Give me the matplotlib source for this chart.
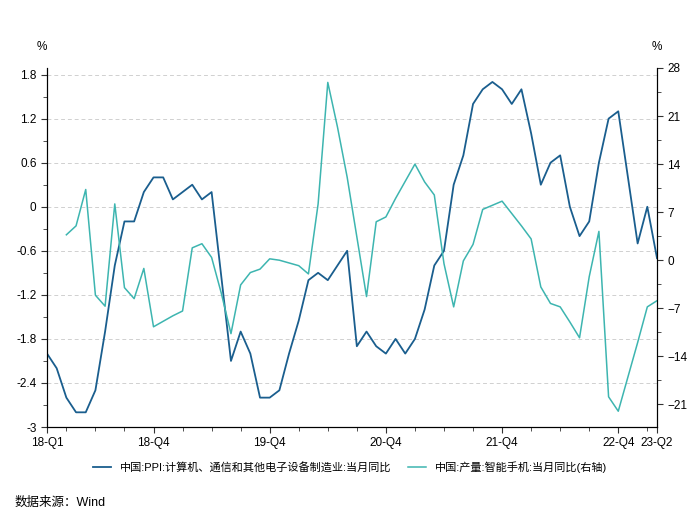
import matplotlib
matplotlib.use("Agg")
import matplotlib.pyplot as plt
from matplotlib.ticker import MultipleLocator
import numpy as np

plt.rcParams['font.family'] = ['Liberation Sans', 'Noto Sans CJK SC', 'DejaVu Sans']

tick_labels = ["18-Q1", "18-Q4", "19-Q4", "20-Q4", "21-Q4", "22-Q4", "23-Q2"]
tick_idx = [0, 11, 23, 35, 47, 59, 63]

ppi = [-2.0, -2.2, -2.6, -2.8, -2.8, -2.5, -1.7, -0.8, -0.2, -0.2, 0.2, 0.4,
       0.4, 0.1, 0.2, 0.3, 0.1, 0.2, -0.95, -2.1, -1.7, -2.0, -2.6, -2.6,
       -2.5, -2.0, -1.55, -1.0, -0.9, -1.0, -0.8, -0.6, -1.9, -1.7, -1.9, -2.0,
       -1.8, -2.0, -1.8, -1.4, -0.8, -0.6, 0.3, 0.7, 1.4, 1.6, 1.7, 1.6,
       1.4, 1.6, 1.0, 0.3, 0.6, 0.7, 0.0, -0.4, -0.2, 0.6, 1.2, 1.3,
       0.4, -0.5, 0.0, -0.7]
phone = [None, None, 3.7, 5.0, 10.3, -5.1, -6.7, 8.2, -4.0, -5.6, -1.2, -9.7,
         -8.9, -8.1, -7.4, 1.8, 2.4, 0.4, -4.8, -10.7, -3.6, -1.8, -1.3, 0.2,
         0.0, -0.4, -0.8, -2.0, 8.2, 25.9, 19.4, 12.1, 3.4, -5.3, 5.6, 6.3,
         9.0, 11.5, 14.0, 11.4, 9.5, -0.5, -6.8, -0.1, 2.3, 7.4, 8.0, 8.6,
         6.8, 5.0, 3.1, -3.9, -6.3, -6.8, -9.0, -11.3, -2.4, 4.2, -19.9, -22.0,
         -17.0, -12.0, -6.8, -5.9]

x = np.arange(len(ppi))
phone_arr = np.array([np.nan if v is None else v for v in phone], dtype=float)

c1 = '#1a5e8e'
c2 = '#3db5b0'

fig = plt.figure(figsize=(7, 5.21), dpi=100)
ax = fig.add_axes([47/700, 1-427/521, 610/700, 359/521])
ax2 = ax.twinx()

l1, = ax.plot(x, ppi, color=c1, lw=1.3)
l2, = ax2.plot(x, phone_arr, color=c2, lw=1.1)

ax.set_xlim(0, 63)
ax.set_ylim(-3, 1.89)
ax2.set_ylim(-24.3, 27.9)
ax.set_yticks([1.8, 1.2, 0.6, 0, -0.6, -1.2, -1.8, -2.4, -3])
ax.set_yticklabels(["1.8", "1.2", "0.6", "0", "-0.6", "-1.2", "-1.8", "-2.4", "-3"])
ax.yaxis.set_minor_locator(MultipleLocator(0.3))
ax2.set_yticks([28, 21, 14, 7, 0, -7, -14, -21])
ax2.yaxis.set_minor_locator(MultipleLocator(3.5))
ax.set_xticks(tick_idx)
ax.set_xticklabels(tick_labels)
ax.set_xticks(np.arange(2, 64, 3), minor=True)

for a in (ax, ax2):
    a.spines['top'].set_visible(False)
    a.tick_params(labelsize=8.5, length=4, color='#333333', direction='out')
    a.tick_params(which='minor', length=3, color='#333333')
ax.grid(axis='y', ls=(0, (4, 3)), color='#d0d0d0', lw=0.7)
ax.set_axisbelow(True)

fig.text(42/700, 1-50/521, '%', fontsize=8.5, ha='center')
fig.text(657/700, 1-50/521, '%', fontsize=8.5, ha='center')

fig.legend([l1, l2], ['中国:PPI:计算机、通信和其他电子设备制造业:当月同比',
                      '中国:产量:智能手机:当月同比(右轴)'],
           loc='center', bbox_to_anchor=(0.5, 1-467/521), ncol=2, frameon=False,
           fontsize=8, handlelength=1.6, columnspacing=1.5)
fig.text(15/700, 1-506/521, '数据来源：Wind', fontsize=9)

fig.savefig('out.png', dpi=100)
